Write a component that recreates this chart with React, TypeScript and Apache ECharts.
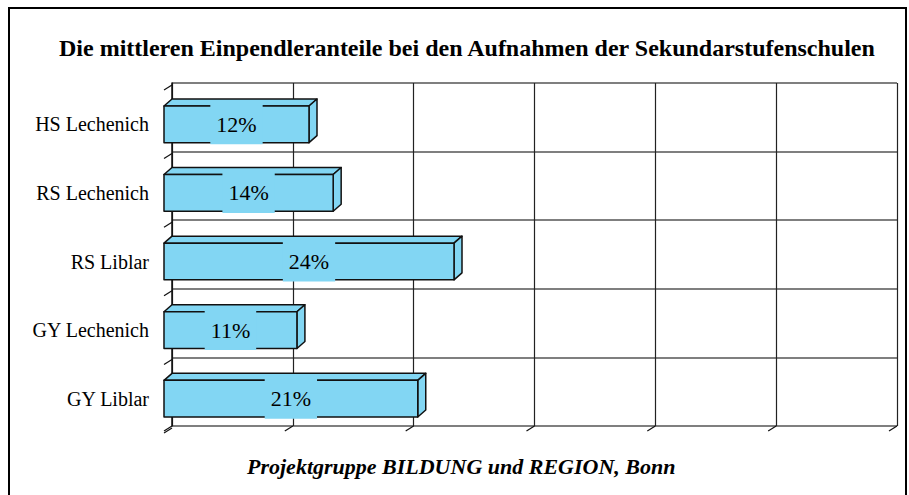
import React, { useEffect, useRef } from "react";
import * as echarts from "echarts";

const categories = ["HS Lechenich", "RS Lechenich", "RS Liblar", "GY Lechenich", "GY Liblar"];
const values = [12, 14, 24, 11, 21];
const xTicks = [0, 10, 20, 30, 40, 50, 60];
const titleText = "Die mittleren Einpendleranteile bei den Aufnahmen der Sekundarstufenschulen";
const footerText = "Projektgruppe BILDUNG und REGION, Bonn";

const BAR = "#82d6f3";
const DX = 8;
const DY = -7;
const SERIF = "Liberation Serif";

export default function App() {
  const ref = useRef<HTMLDivElement>(null);
  useEffect(() => {
    if (!ref.current) return;
    const chart = echarts.init(ref.current, null, { renderer: "svg" });
    const option: any = {
      animation: false,
      backgroundColor: "#ffffff",
      title: [
        {
          text: titleText,
          left: 54,
          top: 31,
          textStyle: { fontFamily: SERIF, fontWeight: "bold", fontSize: 24, color: "#000" },
        },
        {
          text: footerText,
          left: 242,
          top: 450,
          textStyle: { fontFamily: SERIF, fontWeight: "bold", fontStyle: "italic", fontSize: 22, color: "#000" },
        },
      ],
      graphic: [
        {
          type: "rect",
          shape: { x: 9, y: 8, width: 897, height: 520 },
          style: { fill: "none", stroke: "#000", lineWidth: 2 },
          silent: true,
        },
      ],
      grid: [
        { left: 172, top: 83, width: 725, height: 343 },
        { left: 164, top: 90, width: 725, height: 343 },
      ],
      xAxis: [
        {
          gridIndex: 0,
          type: "value",
          min: 0,
          max: 60,
          interval: 10,
          axisLine: { show: false },
          axisTick: { show: false },
          axisLabel: { show: false },
          splitLine: { show: true, lineStyle: { color: "#222", width: 1.2 } },
        },
        {
          gridIndex: 1,
          type: "value",
          min: 0,
          max: 60,
          interval: 10,
          axisLine: { show: false },
          axisTick: { show: false },
          axisLabel: { show: false },
          splitLine: { show: false },
        },
      ],
      yAxis: [
        {
          gridIndex: 0,
          type: "category",
          inverse: true,
          data: categories,
          axisLine: { show: true, lineStyle: { color: "#111", width: 1.5 } },
          axisTick: { show: false },
          axisLabel: { show: false },
          splitLine: { show: true, lineStyle: { color: "#7f7f7f", width: 2 } },
        },
        {
          gridIndex: 1,
          type: "category",
          inverse: true,
          data: categories,
          axisLine: { show: false },
          axisTick: { show: false },
          axisLabel: {
            show: true,
            margin: 15,
            fontFamily: SERIF,
            fontSize: 20,
            color: "#000",
          },
          splitLine: { show: false },
        },
      ],
      series: [
        {
          type: "custom",
          xAxisIndex: 0,
          yAxisIndex: 0,
          clip: false,
          silent: true,
          data: xTicks.map((v) => [v, 0]),
          renderItem: (params: any, api: any) => {
            const cs = params.coordSys;
            const x = api.coord([api.value(0), 0])[0];
            const yb = cs.y + cs.height;
            return {
              type: "line",
              shape: { x1: x, y1: yb, x2: x - DX, y2: yb + 5 },
              style: { stroke: "#111", lineWidth: 1.2 },
            };
          },
        },
        {
          type: "custom",
          xAxisIndex: 0,
          yAxisIndex: 0,
          clip: false,
          silent: true,
          data: [0, ...categories.map((_, i) => i + 1)].map((k) => [0, k]),
          renderItem: (params: any, api: any) => {
            const cs = params.coordSys;
            const band = cs.height / categories.length;
            const y = cs.y + api.value(1) * band;
            return {
              type: "line",
              shape: { x1: cs.x, y1: y + 2, x2: cs.x - DX, y2: y + 7 },
              style: { stroke: "#111", lineWidth: 1.2 },
            };
          },
        },
        {
          type: "custom",
          xAxisIndex: 1,
          yAxisIndex: 1,
          clip: false,
          silent: true,
          z: 5,
          data: values.map((v, i) => [v, i]),
          renderItem: (params: any, api: any) => {
            const v = api.value(0);
            const i = api.value(1);
            const p0 = api.coord([0, i]);
            const p1 = api.coord([v, i]);
            const band = api.size([0, 1])[1];
            const h = band * 0.535;
            const x0 = p0[0];
            const x1 = p1[0];
            const yt = p1[1] - h / 2;
            const yb = p1[1] + h / 2;
            const stroke = { stroke: "#111", lineWidth: 1.5, lineJoin: "round" };
            return {
              type: "group",
              children: [
                {
                  type: "polygon",
                  shape: { points: [[x0, yt], [x0 + DX, yt + DY], [x1 + DX, yt + DY], [x1, yt]] },
                  style: { fill: BAR, ...stroke },
                },
                {
                  type: "polygon",
                  shape: { points: [[x1, yt], [x1 + DX, yt + DY], [x1 + DX, yb + DY], [x1, yb]] },
                  style: { fill: BAR, ...stroke },
                },
                {
                  type: "rect",
                  shape: { x: x0, y: yt, width: x1 - x0, height: h },
                  style: { fill: BAR, ...stroke },
                },
                {
                  type: "text",
                  x: (x0 + x1) / 2,
                  y: p1[1],
                  style: {
                    text: v + "%",
                    fontFamily: SERIF,
                    fontSize: 22,
                    fill: "#000",
                    align: "center",
                    verticalAlign: "middle",
                    backgroundColor: BAR,
                    padding: [8, 6, 8, 6],
                    lineHeight: 24,
                  },
                },
              ],
            };
          },
        },
      ],
    };
    chart.setOption(option);
    return () => chart.dispose();
  }, []);
  return (
    <div
      ref={ref}
      style={{ position: "fixed", left: 0, top: 0, width: 909, height: 495, background: "#fff" }}
    />
  );
}
